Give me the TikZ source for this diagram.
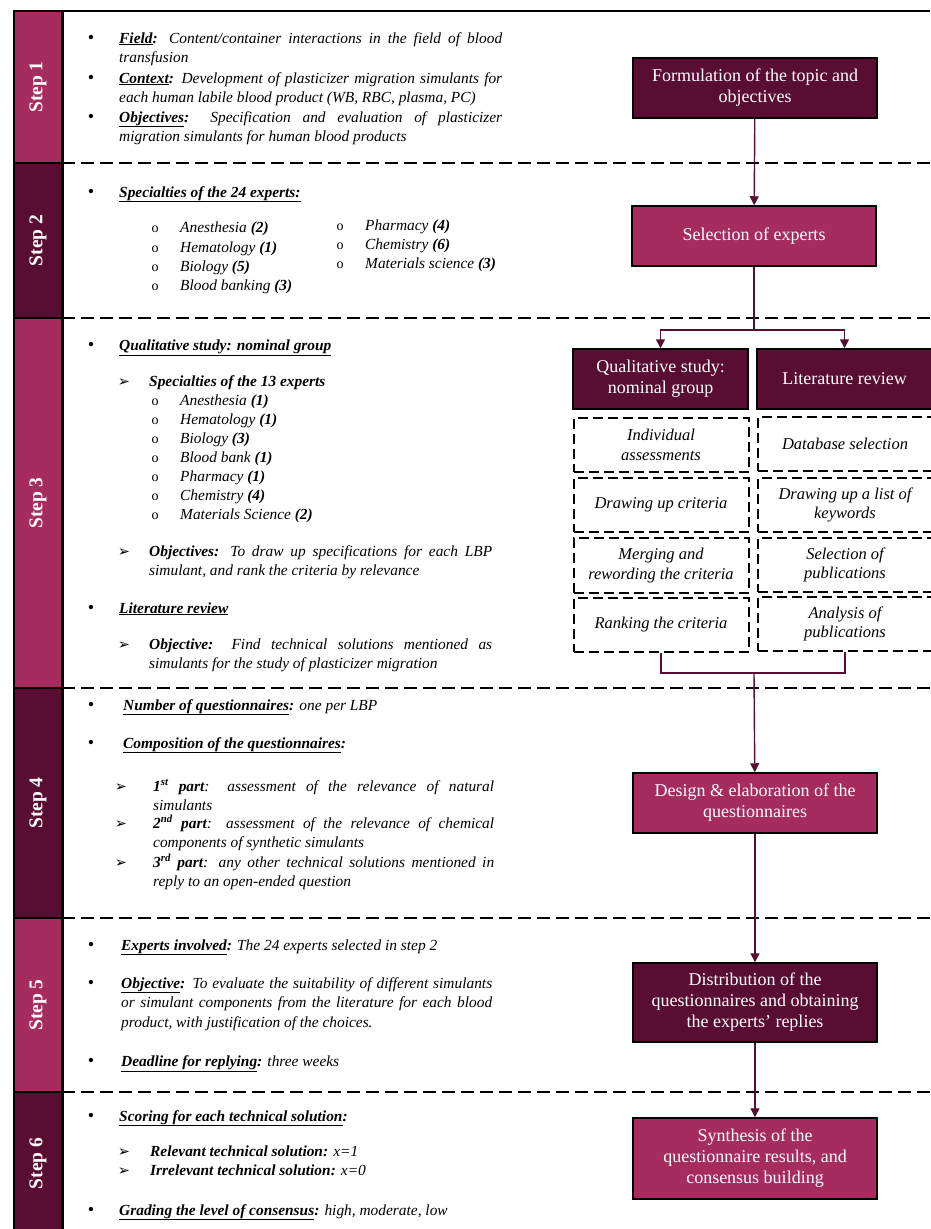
\documentclass[tikz,border=0pt]{standalone}
\usepackage{fontspec}
\setmainfont{Liberation Serif}
\newfontfamily\symfont{DejaVu Sans}
\usetikzlibrary{arrows.meta}
\definecolor{lbp}{RGB}{166,44,96}
\definecolor{dbp}{RGB}{90,13,50}
\newcommand{\lbl}[1]{\underline{\textbf{#1}}}
\newcommand{\bodyfont}{\fontsize{15.4}{19.6}\selectfont}
\newcommand{\boxfont}{\fontsize{18}{21}\selectfont}
\newcommand{\tip}{\symfont\fontsize{14.5}{15}\selectfont ➢}

\begin{document}
\begin{tikzpicture}[x=1pt, y=-1pt,
  stepbar/.style={draw=black, line width=1.5pt, rotate=90, minimum height=48, inner sep=0, text=white, font=\fontsize{19.5}{21}\selectfont\bfseries},
  sep/.style={dash pattern=on 13pt off 6pt, line width=1.3pt},
  bul/.style={anchor=base, inner sep=0, font=\fontsize{18}{20}\selectfont},
  subo/.style={anchor=base, inner sep=0, font=\fontsize{14}{16}\selectfont},
  txt/.style={anchor=base west, inner sep=0, font=\bodyfont\itshape},
  par/.style={anchor=base west, inner sep=0, font=\bodyfont\itshape, align=justify},
  darkbox/.style={draw=black, line width=1.5pt, fill=dbp, text=white, font=\boxfont, align=center, minimum width=244, minimum height=60, inner sep=2},
  lightbox/.style={darkbox, fill=lbp},
  dbox/.style={draw=black, dash pattern=on 10pt off 5pt, line width=2pt, font=\fontsize{16.5}{19.5}\selectfont\itshape, align=center, minimum width=175, minimum height=54, inner sep=2},
  flow/.style={draw=dbp, line width=1.4pt},
  arrow/.style={flow, -{Triangle[length=9pt,width=9pt]}}]

  \useasboundingbox (0,0) rectangle (930,1229);

  % step column
  \node[stepbar, fill=lbp, minimum width=152] (step1) at (38,87) {Step 1};
  \node[stepbar, fill=dbp, minimum width=155] (step2) at (38,240.5) {Step 2};
  \node[stepbar, fill=lbp, minimum width=370] (step3) at (38,503) {Step 3};
  \node[stepbar, fill=dbp, minimum width=230] (step4) at (38,803) {Step 4};
  \node[stepbar, fill=lbp, minimum width=174] (step5) at (38,1005) {Step 5};
  \node[stepbar, fill=dbp, minimum width=143] (step6) at (38,1163.5) {Step 6};
  \draw[line width=3pt] (62,11) -- (62,1235);
  \draw[line width=2pt] (13,11) -- (930,11);

  % separators
  \draw[sep] (62,163) -- (930,163);
  \draw[sep] (62,318) -- (930,318);
  \draw[sep] (62,688) -- (930,688);
  \draw[sep] (62,918) -- (930,918);
  \draw[sep] (62,1092) -- (930,1092);

  % step 1
  \node[bul] (b1a) at (91,43) {•};
  \node[par, text width=383] (t1a) at (119,43) {\lbl{Field}\textbf{:} Content/container interactions in the field of blood\linebreak transfusion};
  \node[bul] (b1b) at (91,83) {•};
  \node[par, text width=383] (t1b) at (119,83) {\lbl{Context}\textbf{:} Development of plasticizer migration simulants for\linebreak each human labile blood product (WB, RBC, plasma, PC)};
  \node[bul] (b1c) at (91,122) {•};
  \node[par, text width=383] (t1c) at (119,122) {\lbl{Objectives}\textbf{:} Specification and evaluation of plasticizer\linebreak migration simulants for human blood products};

  % step 2
  \node[bul] (b2a) at (91,197) {•};
  \node[txt] (t2a) at (119,197) {\lbl{Specialties of the 24 experts:}};
  \node[subo] (o2a) at (155,232) {o};
  \node[txt] (t2b) at (180,232) {Anesthesia \textbf{(2)}};
  \node[subo] (o2b) at (155,252) {o};
  \node[txt] (t2c) at (180,252) {Hematology \textbf{(1)}};
  \node[subo] (o2c) at (155,271) {o};
  \node[txt] (t2d) at (180,271) {Biology \textbf{(5)}};
  \node[subo] (o2d) at (155,290) {o};
  \node[txt] (t2e) at (180,290) {Blood banking \textbf{(3)}};
  \node[subo] (o2e) at (340,230) {o};
  \node[txt] (t2f) at (365,230) {Pharmacy \textbf{(4)}};
  \node[subo] (o2f) at (340,249) {o};
  \node[txt] (t2g) at (365,249) {Chemistry \textbf{(6)}};
  \node[subo] (o2g) at (340,268) {o};
  \node[txt] (t2h) at (365,268) {Materials science \textbf{(3)}};

  % step 3
  \node[bul] (b3a) at (91,350) {•};
  \node[txt] (t3a) at (119,350) {\lbl{Qualitative study: nominal group}};
  \node[bul] (a3a) at (124,386) {\tip};
  \node[txt] (t3b) at (149,386) {\textbf{Specialties of the 13 experts}};
  \node[subo] (o3a) at (155,405) {o};
  \node[txt] (t3c) at (180,405) {Anesthesia \textbf{(1)}};
  \node[subo] (o3b) at (155,424) {o};
  \node[txt] (t3d) at (180,424) {Hematology \textbf{(1)}};
  \node[subo] (o3c) at (155,443) {o};
  \node[txt] (t3e) at (180,443) {Biology \textbf{(3)}};
  \node[subo] (o3d) at (155,462) {o};
  \node[txt] (t3f) at (180,462) {Blood bank \textbf{(1)}};
  \node[subo] (o3e) at (155,481) {o};
  \node[txt] (t3g) at (180,481) {Pharmacy \textbf{(1)}};
  \node[subo] (o3f) at (155,500) {o};
  \node[txt] (t3h) at (180,500) {Chemistry \textbf{(4)}};
  \node[subo] (o3g) at (155,519) {o};
  \node[txt] (t3i) at (180,519) {Materials Science \textbf{(2)}};
  \node[bul] (a3b) at (124,556) {\tip};
  \node[par, text width=343] (t3j) at (149,556) {\textbf{Objectives:} To draw up specifications for each LBP\linebreak simulant, and rank the criteria by relevance};
  \node[bul] (b3b) at (91,613) {•};
  \node[txt] (t3k) at (119,613) {\lbl{Literature review}};
  \node[bul] (a3c) at (124,649) {\tip};
  \node[par, text width=343] (t3l) at (149,649) {\textbf{Objective:} Find technical solutions mentioned as\linebreak simulants for the study of plasticizer migration};

  % step 4
  \node[bul] (b4a) at (91,710) {•};
  \node[txt] (t4a) at (123,710) {\lbl{Number of questionnaires}\textbf{:} one per LBP};
  \node[bul] (b4b) at (91,748) {•};
  \node[txt] (t4b) at (123,748) {\lbl{Composition of the questionnaires}\textbf{:}};
  \node[bul] (a4a) at (121,791) {\tip};
  \node[par, text width=341] (t4c) at (153,791) {\textbf{1\textsuperscript{st} part}: assessment of the relevance of natural\linebreak simulants};
  \node[bul] (a4b) at (121,828) {\tip};
  \node[par, text width=341] (t4d) at (153,828) {\textbf{2\textsuperscript{nd} part}: assessment of the relevance of chemical\linebreak components of synthetic simulants};
  \node[bul] (a4c) at (121,867) {\tip};
  \node[par, text width=341] (t4e) at (153,867) {\textbf{3\textsuperscript{rd} part}: any other technical solutions mentioned in\linebreak reply to an open-ended question};

  % step 5
  \node[bul] (b5a) at (91,950) {•};
  \node[txt] (t5a) at (121,950) {\lbl{Experts involved}\textbf{:} The 24 experts selected in step 2};
  \node[bul] (b5b) at (91,988) {•};
  \node[par, text width=371] (t5b) at (121,988) {\lbl{Objective}\textbf{:} To evaluate the suitability of different simulants\linebreak or simulant components from the literature for each blood\linebreak product, with justification of the choices.};
  \node[bul] (b5c) at (91,1066) {•};
  \node[txt] (t5c) at (121,1066) {\lbl{Deadline for replying}\textbf{:} three weeks};

  % step 6
  \node[bul] (b6a) at (91,1121) {•};
  \node[txt] (t6a) at (119,1121) {\lbl{Scoring for each technical solution}\textbf{:}};
  \node[bul] (a6a) at (124,1156) {\tip};
  \node[txt] (t6b) at (150,1156) {\textbf{Relevant technical solution:} x=1};
  \node[bul] (a6b) at (124,1175) {\tip};
  \node[txt] (t6c) at (150,1175) {\textbf{Irrelevant technical solution:} x=0};
  \node[bul] (b6b) at (91,1215) {•};
  \node[txt] (t6d) at (119,1215) {\lbl{Grading the level of consensus}\textbf{:} high, moderate, low};

  % flow chart
  \node[darkbox] (topic) at (755,88) {Formulation of the topic and\\objectives};
  \node[lightbox] (select) at (754,236) {Selection of experts};
  \node[darkbox, minimum width=175] (qual) at (660.5,379) {Qualitative study:\\nominal group};
  \node[darkbox, minimum width=175] (lit) at (844.5,379) {Literature review};

  \node[dbox] (indiv) at (661,445) {Individual\\assessments};
  \node[dbox] (crit) at (661,505) {Drawing up criteria};
  \node[dbox, minimum height=55] (merge) at (661,565.5) {Merging and\\rewording the criteria};
  \node[dbox] (rank) at (661,625) {Ranking the criteria};
  \node[dbox] (dbase) at (845,444) {Database selection};
  \node[dbox] (keyw) at (845,505) {Drawing up a list of\\keywords};
  \node[dbox] (selpub) at (845,565) {Selection of\\publications};
  \node[dbox] (anapub) at (845,624) {Analysis of\\publications};

  \node[lightbox] (design) at (755,803) {Design \& elaboration of the\\questionnaires};
  \node[darkbox, minimum height=79] (distr) at (755,1002.5) {Distribution of the\\questionnaires and obtaining\\the experts’ replies};
  \node[lightbox, minimum height=81] (synth) at (755,1158.5) {Synthesis of the\\questionnaire results, and\\consensus building};

  \coordinate (split) at (754,330);
  \coordinate (join) at (754,673);

  \draw[arrow] (topic) -- (select);
  \draw[flow] (select) -- (split);
  \draw[arrow] (split) -| (qual.north);
  \draw[arrow] (split) -| (lit.north);
  \draw[flow] (rank.south) |- (join) -| (anapub.south);
  \draw[arrow] (join) -- (design);
  \draw[arrow] (design) -- (distr);
  \draw[arrow] (distr) -- (synth);

\end{tikzpicture}
\end{document}
